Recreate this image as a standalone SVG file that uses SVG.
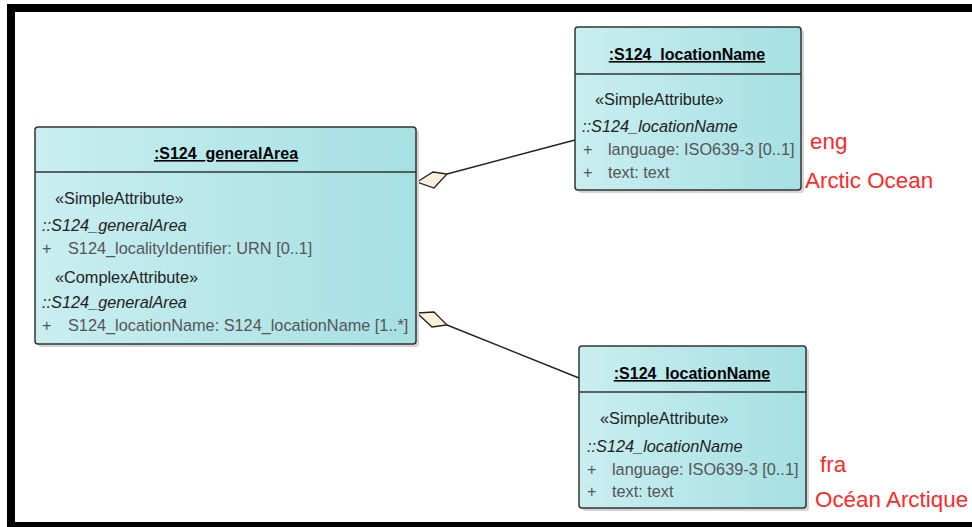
<svg xmlns="http://www.w3.org/2000/svg" width="972" height="527" viewBox="0 0 972 527">
<style>
text{font-family:"Liberation Sans",Arial,sans-serif;}
.box{fill:url(#g);stroke:#333;stroke-width:1.5;}
.shadow{fill:#d4d4d4;}
.div{stroke:#333;stroke-width:1.5;}
.title{font-size:16px;font-weight:bold;fill:#000;text-anchor:middle;text-decoration:underline;}
.st{font-size:16.3px;fill:#222;}
.ns{font-size:16.3px;font-style:italic;fill:#222;}
.at{font-size:16.3px;fill:#555;}
.red{font-size:22.4px;fill:#ff2a2a;}
.conn{stroke:#222;stroke-width:1.5;fill:none;}
.dia{fill:#fbf0dc;stroke:#222;stroke-width:1.3;}
</style>
<defs>
<linearGradient id="g" x1="0" y1="0" x2="1" y2="0">
<stop offset="0" stop-color="#c9eef0"/>
<stop offset="1" stop-color="#a6e0e3"/>
</linearGradient>
</defs>
<rect width="972" height="527" fill="#fff"/>
<g id="frame" fill="#000">
<rect x="7" y="4" width="965" height="8"/>
<rect x="7" y="4" width="8" height="523"/>
<rect x="7" y="522" width="965" height="5"/>
</g>
<g id="connectors">
<line class="conn" x1="447" y1="174" x2="575" y2="140"/>
<polygon class="dia" points="417,182 433,172 447,174 434,188"/>
<line class="conn" x1="447" y1="325" x2="579" y2="378"/>
<polygon class="dia" points="417,313 434,312 447,325 432,327"/>
</g>
<g id="generalArea">
<rect class="shadow" x="38" y="130" width="381" height="217" rx="3"/>
<rect class="box" x="35" y="127" width="381" height="217" rx="3"/>
<line class="div" x1="35" y1="172" x2="416" y2="172"/>
<text class="title" x="226" y="159">:S124_generalArea</text>
<text class="st" x="55" y="204">«SimpleAttribute»</text>
<text class="ns" x="42" y="231">::S124_generalArea</text>
<text class="at" x="42" y="254">+</text>
<text class="at" x="68" y="254">S124_localityIdentifier: URN [0..1]</text>
<text class="st" x="55" y="283">«ComplexAttribute»</text>
<text class="ns" x="42" y="308">::S124_generalArea</text>
<text class="at" x="42" y="331">+</text>
<text class="at" x="68" y="331">S124_locationName: S124_locationName [1..*]</text>
</g>
<g id="locationName1">
<rect class="shadow" x="578" y="30" width="226" height="163" rx="3"/>
<rect class="box" x="575" y="27" width="226" height="163" rx="3"/>
<line class="div" x1="575" y1="74" x2="801" y2="74"/>
<text class="title" x="687" y="60">:S124_locationName</text>
<text class="st" x="595" y="105">«SimpleAttribute»</text>
<text class="ns" x="582" y="132">::S124_locationName</text>
<text class="at" x="583" y="155">+</text>
<text class="at" x="608" y="155">language: ISO639-3 [0..1]</text>
<text class="at" x="583" y="178">+</text>
<text class="at" x="608" y="178">text: text</text>
</g>
<g id="locationName2">
<rect class="shadow" x="582" y="349" width="227" height="162" rx="3"/>
<rect class="box" x="579" y="346" width="227" height="162" rx="3"/>
<line class="div" x1="579" y1="392" x2="806" y2="392"/>
<text class="title" x="692" y="379">:S124_locationName</text>
<text class="st" x="600" y="424">«SimpleAttribute»</text>
<text class="ns" x="587" y="452">::S124_locationName</text>
<text class="at" x="587" y="475">+</text>
<text class="at" x="612" y="475">language: ISO639-3 [0..1]</text>
<text class="at" x="587" y="497">+</text>
<text class="at" x="612" y="497">text: text</text>
</g>
<g id="labels">
<text class="red" x="810" y="149">eng</text>
<text class="red" x="805" y="188">Arctic Ocean</text>
<text class="red" x="820" y="472">fra</text>
<text class="red" x="815" y="507">Océan Arctique</text>
</g>
</svg>
